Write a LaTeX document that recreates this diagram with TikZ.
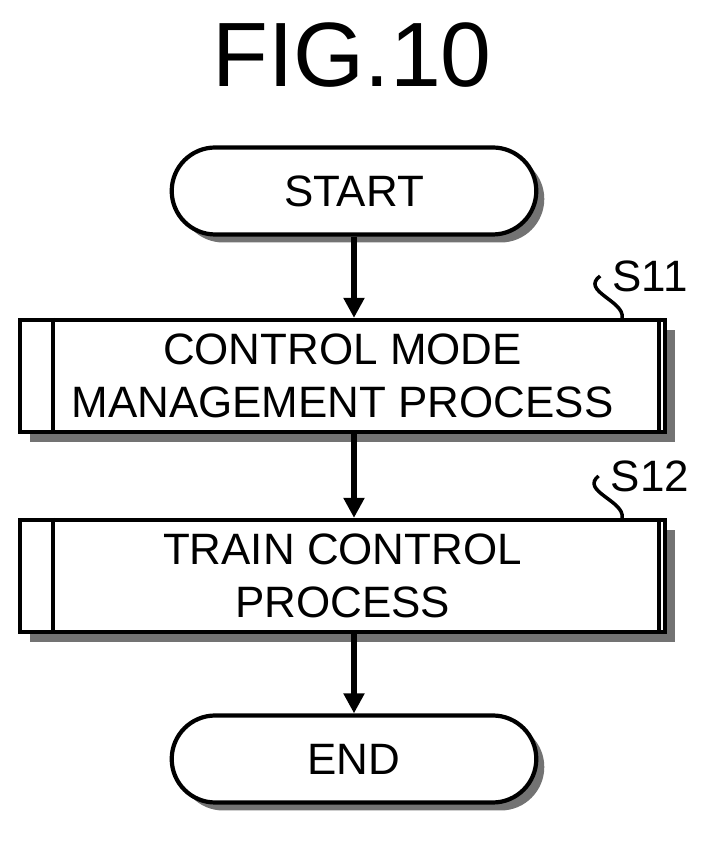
\documentclass[tikz,border=0pt]{standalone}
\usepackage{fontspec}
\setmainfont{Liberation Sans}
\usetikzlibrary{shapes.misc,arrows.meta,shadows}
\tikzset{
  term/.style={draw,line width=1.2pt,rounded rectangle,minimum width=3.88cm,minimum height=0.87cm,
    fill=white,font=\fontsize{12.5}{15}\selectfont,drop shadow={shadow xshift=0.08cm,shadow yshift=-0.08cm,fill=black!55,opacity=1}},
  proc/.style={draw,line width=1.2pt,rectangle,minimum width=6.45cm,minimum height=1.12cm,
    fill=white,align=center,font=\fontsize{12.5}{15}\selectfont,
    drop shadow={shadow xshift=0.1cm,shadow yshift=-0.1cm,fill=black!55,opacity=1}},
  flow/.style={-{Triangle[length=0.2cm,width=0.2cm]},line width=1.5pt}
}
\begin{document}
\begin{tikzpicture}
  \useasboundingbox (0,0) rectangle (7.24,8.46);
  \node (title) at (3.52,7.91) {\fontsize{26}{30}\selectfont FIG.10};
  \node [term] (start) at (3.54,6.55) {START};
  % process boxes
  \node [proc] (s11) at (3.425,4.70) {CONTROL MODE\\MANAGEMENT PROCESS};
  \draw [line width=1.2pt] ([xshift=0.35cm]s11.north west) -- ([xshift=0.35cm]s11.south west);
  \draw [line width=1.2pt] ([xshift=-0.08cm]s11.north east) -- ([xshift=-0.08cm]s11.south east);
  \node [proc] (s12) at (3.425,2.70) {TRAIN CONTROL\\PROCESS};
  \draw [line width=1.2pt] ([xshift=0.35cm]s12.north west) -- ([xshift=0.35cm]s12.south west);
  \draw [line width=1.2pt] ([xshift=-0.08cm]s12.north east) -- ([xshift=-0.08cm]s12.south east);
  \node [term] (end) at (3.54,0.87) {END};
  % step labels
  \node [font=\fontsize{12.5}{15}\selectfont] (l11) at (6.5,5.70) {S11};
  \node [font=\fontsize{12.5}{15}\selectfont] (l12) at (6.5,3.70) {S12};
  \draw [line width=1pt] ([xshift=-0.45cm]s11.north east) .. controls (6.25,5.45) and (5.8,5.55) .. (l11.west);
  \draw [line width=1pt] ([xshift=-0.45cm]s12.north east) .. controls (6.25,3.45) and (5.8,3.55) .. (l12.west);
  % links
  \draw [flow] (start.south) -- (start.south |- s11.north);
  \draw [flow] (start.south |- s11.south) -- (start.south |- s12.north);
  \draw [flow] (start.south |- s12.south) -- (end.north);
\end{tikzpicture}
\end{document}
